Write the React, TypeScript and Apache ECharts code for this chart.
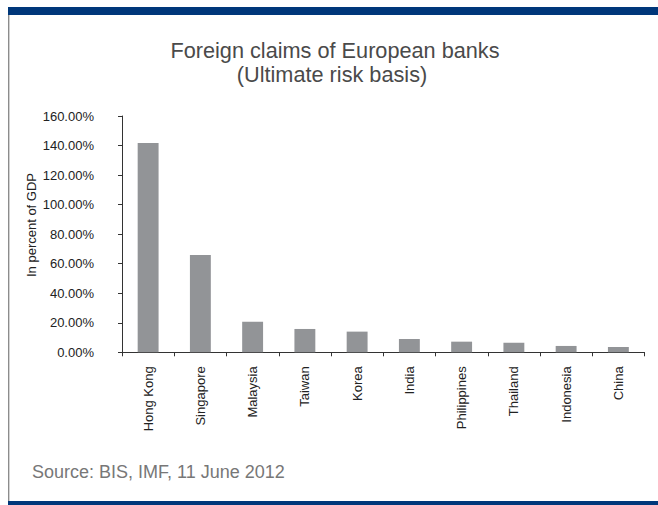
import React, { useEffect, useRef } from "react";
import * as echarts from "echarts";

const categories = ["Hong Kong", "Singapore", "Malaysia", "Taiwan", "Korea", "India", "Philippines", "Thailand", "Indonesia", "China"];
const values = [141.8, 65.8, 20.7, 15.8, 14.0, 9.0, 7.2, 6.5, 4.3, 3.6];
const titleLines = ["Foreign claims of European banks", "(Ultimate risk basis)"];
const yAxisLabel = "In percent of GDP";
const sourceText = "Source: BIS, IMF, 11 June 2012";

const FONT = "'Liberation Sans', Arial, Helvetica, sans-serif";

export default function App() {
  const ref = useRef<HTMLDivElement>(null);
  useEffect(() => {
    document.body.style.margin = "0";
    const chart = echarts.init(ref.current!, null, { renderer: "svg" });
    chart.setOption({
      animation: false,
      backgroundColor: "#ffffff",
      textStyle: { fontFamily: FONT },
      grid: { left: 122, top: 116, right: 13.5, bottom: 152.7, containLabel: false },
      xAxis: {
        type: "category",
        data: categories,
        axisLine: { lineStyle: { color: "#333333", width: 1 } },
        axisTick: { show: true, length: 4, lineStyle: { color: "#333333" } },
        axisLabel: { rotate: 90, margin: 14, fontSize: 13, color: "#222222", fontFamily: FONT, interval: 0 },
      },
      yAxis: {
        type: "value",
        min: 0,
        max: 160,
        interval: 20,
        axisLine: { show: true, lineStyle: { color: "#333333", width: 1 } },
        axisTick: { show: true, length: 4, lineStyle: { color: "#333333" } },
        splitLine: { show: false },
        axisLabel: {
          margin: 28,
          fontSize: 13,
          color: "#222222",
          fontFamily: FONT,
          formatter: (v: number) => v.toFixed(2) + "%",
        },
      },
      series: [
        {
          type: "bar",
          data: values,
          barWidth: "40%",
          itemStyle: { color: "#929497" },
        },
      ],
      graphic: [
        { type: "rect", shape: { x: 8, y: 7, width: 1.4, height: 498 }, style: { fill: "#8c8c8c" } },
        { type: "rect", shape: { x: 8, y: 7, width: 650, height: 8 }, style: { fill: "#00377a" } },
        { type: "rect", shape: { x: 8, y: 501, width: 650, height: 4 }, style: { fill: "#00377a" } },
        {
          type: "text",
          x: 335,
          y: 50,
          style: { text: titleLines[0], fontSize: 21.7, fill: "#4a4a4a", fontFamily: FONT, align: "center", verticalAlign: "middle" },
        },
        {
          type: "text",
          x: 332,
          y: 74,
          style: { text: titleLines[1], fontSize: 21.7, fill: "#4a4a4a", fontFamily: FONT, align: "center", verticalAlign: "middle" },
        },
        {
          type: "text",
          x: 31,
          y: 225,
          rotation: Math.PI / 2,
          style: { text: yAxisLabel, fontSize: 13, fill: "#222222", fontFamily: FONT, align: "center", verticalAlign: "middle" },
        },
        {
          type: "text",
          x: 32,
          y: 471.5,
          style: { text: sourceText, fontSize: 18, fill: "#777777", fontFamily: FONT, align: "left", verticalAlign: "middle" },
        },
      ],
    });
    return () => chart.dispose();
  }, []);
  return <div ref={ref} style={{ position: "absolute", left: 0, top: 0, width: 658, height: 505 }} />;
}
